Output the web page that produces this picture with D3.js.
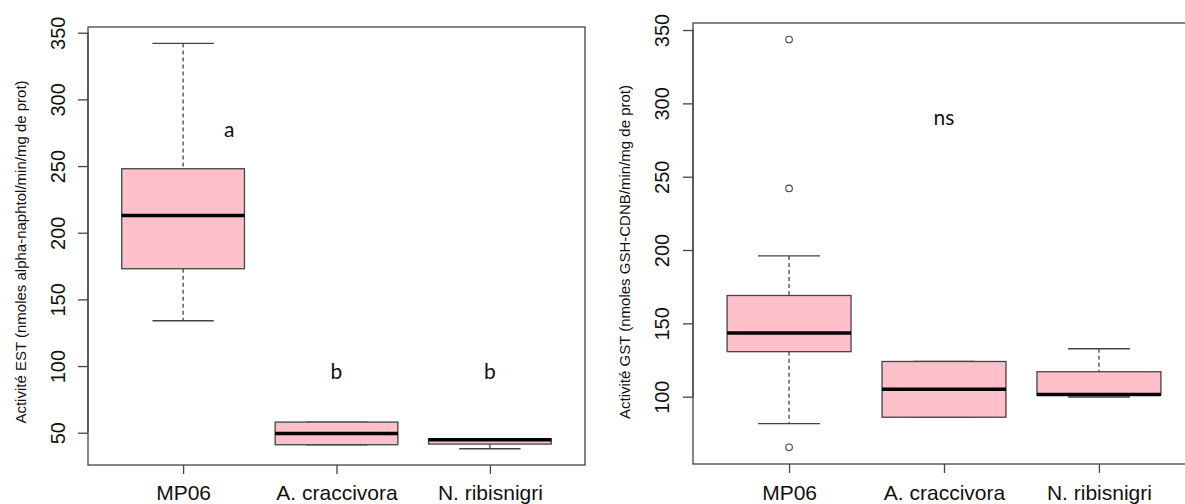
<!DOCTYPE html>
<html lang="fr">
  <head>
    <meta charset="utf-8">
    <title>Activité EST / GST</title>
    <script src="https://cdnjs.cloudflare.com/ajax/libs/d3/7.8.5/d3.min.js"></script>
    <style type="text/css">
      body { margin: 0; background: #fff; }
      .tick-label, .cat-label, .y-title {
        font-family: 'Liberation Sans', Arial, sans-serif;
        fill: #111;
      }
      .letter {
        font-family: 'Lato', 'Open Sans', sans-serif;
        fill: #111;
      }
    </style>
  </head>
  <body>
    <svg id="chart" width="1185" height="504"></svg>
    <script type="text/javascript">
// groups
var categories = ["MP06", "A. craccivora", "N. ribisnigri"];

// EST activity: boxplot stats per group
var estMin = [134, 41, 38];
var estQ1 = [173, 41, 41.5];
var estMedian = [213, 49.5, 44.7];
var estQ3 = [248, 58, 45.5];
var estMax = [342, 58, 45.5];
var estLetters = ["a", "b", "b"];
var estTicks = [50, 100, 150, 200, 250, 300, 350];

// GST activity: boxplot stats per group
var gstMin = [81.6, 86, 99.8];
var gstQ1 = [130.7, 86, 101];
var gstMedian = [143.5, 105, 101.5];
var gstQ3 = [169, 124, 117];
var gstMax = [196, 124, 132.7];
var gstOutliers = [[343.5, 242, 65.5], [], []];
var gstTicks = [100, 150, 200, 250, 300, 350];

var svg = d3.select("#chart");

var axisColor = "#444";
var boxStroke = "#444";
var pink = "#ffc0cb";

function drawPanel(opt) {
  var x = d3.scaleLinear().domain([0.38, 3.62]).range([opt.left, opt.right]);
  var y = d3.scaleLinear().domain(opt.yDomain).range([opt.bottom, opt.top]);
  var g = svg.append("g");
  var bw = (x(2) - x(1)) * 0.8;

  // plot frame
  g.append("rect")
    .attr("x", opt.left).attr("y", opt.top)
    .attr("width", opt.right - opt.left).attr("height", opt.bottom - opt.top)
    .attr("fill", "none").attr("stroke", axisColor).attr("stroke-width", 1.3);

  // y axis
  var yAxis = d3.axisLeft(y).tickValues(opt.ticks).tickSize(10).tickFormat(d3.format("d"));
  var ya = g.append("g")
    .attr("transform", "translate(" + opt.left + ",0)")
    .call(yAxis);
  ya.select(".domain").attr("d", "M0," + y(opt.ticks[0]) + "V" + y(opt.ticks[opt.ticks.length - 1]))
    .attr("stroke", axisColor).attr("stroke-width", 1.3);
  ya.selectAll(".tick line").attr("stroke", axisColor).attr("stroke-width", 1.3);
  ya.selectAll(".tick text").remove();
  ya.selectAll(".tick").append("text")
    .attr("class", "tick-label")
    .attr("transform", "translate(" + (opt.tickLabelX - opt.left) + ",0) rotate(-90)")
    .attr("text-anchor", "middle")
    .attr("dy", "0.35em")
    .style("font-size", "20px")
    .text(function(d) { return d; });

  // x axis ticks
  var xAxis = d3.axisBottom(x).tickValues([1, 2, 3]).tickSize(9).tickFormat("");
  var xa = g.append("g")
    .attr("transform", "translate(0," + opt.bottom + ")")
    .call(xAxis);
  xa.select(".domain").remove();
  xa.selectAll(".tick line").attr("stroke", axisColor).attr("stroke-width", 1.3);
  xa.selectAll(".tick").append("text")
    .attr("class", "cat-label")
    .attr("text-anchor", "middle")
    .attr("y", 500 - opt.bottom)
    .style("font-size", "21px")
    .text(function(d) { return categories[d - 1]; });

  // y title
  g.append("text")
    .attr("class", "y-title")
    .attr("transform", "translate(" + opt.titleX + "," + 252 + ") rotate(-90)")
    .attr("text-anchor", "middle")
    .attr("dy", "0.35em")
    .style("font-size", "15px")
    .text(opt.title);

  var s = opt.stats;
  var groups = g.selectAll(".box").data(categories).enter().append("g").attr("class", "box");

  // whiskers (dashed)
  groups.append("line")
    .attr("x1", function(d, i) { return x(i + 1); })
    .attr("x2", function(d, i) { return x(i + 1); })
    .attr("y1", function(d, i) { return y(s.max[i]); })
    .attr("y2", function(d, i) { return y(s.q3[i]); })
    .attr("stroke", boxStroke).attr("stroke-width", 1.3).attr("stroke-dasharray", "4,3");
  groups.append("line")
    .attr("x1", function(d, i) { return x(i + 1); })
    .attr("x2", function(d, i) { return x(i + 1); })
    .attr("y1", function(d, i) { return y(s.q1[i]); })
    .attr("y2", function(d, i) { return y(s.min[i]); })
    .attr("stroke", boxStroke).attr("stroke-width", 1.3).attr("stroke-dasharray", "4,3");

  // staples
  [s.max, s.min].forEach(function(arr) {
    groups.append("line")
      .attr("x1", function(d, i) { return x(i + 1) - bw / 4; })
      .attr("x2", function(d, i) { return x(i + 1) + bw / 4; })
      .attr("y1", function(d, i) { return y(arr[i]); })
      .attr("y2", function(d, i) { return y(arr[i]); })
      .attr("stroke", boxStroke).attr("stroke-width", 1.3);
  });

  // boxes
  groups.append("rect")
    .attr("x", function(d, i) { return x(i + 1) - bw / 2; })
    .attr("width", bw)
    .attr("y", function(d, i) { return y(s.q3[i]); })
    .attr("height", function(d, i) { return y(s.q1[i]) - y(s.q3[i]); })
    .attr("fill", pink).attr("stroke", boxStroke).attr("stroke-width", 1.3);

  // medians
  groups.append("line")
    .attr("x1", function(d, i) { return x(i + 1) - bw / 2; })
    .attr("x2", function(d, i) { return x(i + 1) + bw / 2; })
    .attr("y1", function(d, i) { return y(s.median[i]); })
    .attr("y2", function(d, i) { return y(s.median[i]); })
    .attr("stroke", "#000").attr("stroke-width", 3.5);

  // outliers
  if (s.outliers) {
    s.outliers.forEach(function(arr, i) {
      g.selectAll(null).data(arr).enter().append("circle")
        .attr("cx", x(i + 1))
        .attr("cy", function(v) { return y(v); })
        .attr("r", 3.3)
        .attr("fill", "none").attr("stroke", boxStroke).attr("stroke-width", 1.1);
    });
  }

  return { x: x, y: y, g: g };
}

var est = drawPanel({
  left: 88, right: 585, top: 27, bottom: 465,
  yDomain: [25.8, 354.3], ticks: estTicks, tickLabelX: 58, titleX: 21,
  title: "Activité EST (nmoles alpha-naphtol/min/mg de prot)",
  stats: { min: estMin, q1: estQ1, median: estMedian, q3: estQ3, max: estMax }
});

var gst = drawPanel({
  left: 693, right: 1195, top: 23, bottom: 464,
  yDomain: [54.1, 354.8], ticks: gstTicks, tickLabelX: 662, titleX: 625,
  title: "Activité GST (nmoles GSH-CDNB/min/mg de prot)",
  stats: { min: gstMin, q1: gstQ1, median: gstMedian, q3: gstQ3, max: gstMax, outliers: gstOutliers }
});

// significance letters
est.g.selectAll(".letter").data(estLetters).enter().append("text")
  .attr("class", "letter")
  .attr("text-anchor", "middle")
  .attr("x", function(d, i) { return i === 0 ? est.x(1.3) : est.x(i + 1); })
  .attr("y", function(d, i) { return i === 0 ? est.y(277) : est.y(96); })
  .attr("dy", "0.35em")
  .style("font-size", "21px")
  .text(function(d) { return d; });

gst.g.append("text")
  .attr("class", "letter")
  .attr("text-anchor", "middle")
  .attr("x", gst.x(2))
  .attr("y", gst.y(290))
  .attr("dy", "0.35em")
  .style("font-size", "21px")
  .text("ns");
    </script>
  </body>
</html>
